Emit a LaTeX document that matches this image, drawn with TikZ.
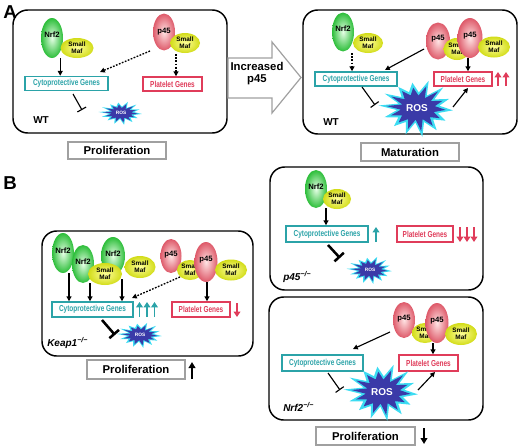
\documentclass[tikz,border=0pt]{standalone}
\usepackage{fontspec}
\setmainfont{Liberation Sans}
\usetikzlibrary{arrows.meta,shapes.geometric}
\definecolor{tealc}{HTML}{2BA3A8}
\definecolor{redc}{HTML}{E03C5A}
\definecolor{nrfout}{HTML}{2DBE3A}
\definecolor{nrfin}{HTML}{E6FFE6}
\definecolor{p45out}{HTML}{DE5A6A}
\definecolor{p45in}{HTML}{FFE4E4}
\definecolor{mafout}{HTML}{D2DC18}
\definecolor{mafin}{HTML}{FFFF9A}
\definecolor{roscyan}{HTML}{3CDCF2}
\definecolor{rosblue}{HTML}{3A3AA8}
\definecolor{boxgray}{HTML}{A0A0A0}
\newcommand\fs[1]{\fontsize{#1}{#1}\selectfont}
\newcommand\gtext[1]{\scalebox{0.97}[1.3]{#1}}
% star: cx cy rx ry
\newcommand\rosstar[4]{%
  \fill[roscyan] plot[domain=0:27,samples=28,variable=\k]
    ({#1+#3*(0.79+0.21*cos(\k*180))*(1+0.08*sin(\k*137))*cos(\k*360/28+5)},
     {#2+#4*(0.79+0.21*cos(\k*180))*(1+0.08*sin(\k*137))*sin(\k*360/28+5)}) -- cycle;
  \fill[rosblue] plot[domain=0:27,samples=28,variable=\k]
    ({#1+0.8*#3*(0.79+0.21*cos(\k*180))*(1+0.08*sin(\k*137))*cos(\k*360/28+5)},
     {#2+0.8*#4*(0.79+0.21*cos(\k*180))*(1+0.08*sin(\k*137))*sin(\k*360/28+5)}) -- cycle;
}
\begin{document}
\begin{tikzpicture}[x=0.75pt,y=-0.75pt,
  panel/.style={draw=black,line width=1.1pt,rounded corners=11pt},
  esz/.style 2 args={minimum width=#1*0.75pt,minimum height=#2*0.75pt},
  nrf/.style={ellipse,inner sep=0pt,shade,inner color=nrfin,outer color=nrfout,font=\fs{5.8}\bfseries},
  pff/.style={ellipse,inner sep=0pt,shade,inner color=p45in,outer color=p45out,font=\fs{5.8}\bfseries},
  maf/.style={ellipse,inner sep=0pt,shade,inner color=mafin,outer color=mafout,font=\fontsize{4.8}{5.2}\selectfont\bfseries,align=center},
  gbox/.style={fill=white,line width=1.1pt,inner sep=0pt,font=\fs{5}\bfseries},
  gcyto/.style={gbox,draw=tealc,text=tealc},
  gplat/.style={gbox,draw=redc,text=redc},
  arr/.style={line width=0.85pt,-{Triangle[length=3.6pt,width=3.6pt]}},
  darr/.style={line width=1pt,dash pattern=on 1.3pt off 1.1pt,-{Triangle[length=3.6pt,width=3.6pt]}},
  inh/.style={line width=0.85pt,-{Bar[width=7.5pt,line width=0.85pt]}},
  inhthick/.style={line width=1.9pt,-{Bar[width=9.5pt,line width=1.9pt]}},
  redup/.style={draw=redc,line width=1.3pt,-{Triangle[length=4pt,width=5pt]}},
  tealup/.style={draw=tealc,line width=1.3pt,-{Triangle[length=4pt,width=5pt]}},
  blkup/.style={draw=black,line width=1.3pt,-{Triangle[length=4.5pt,width=5pt]}},
  prol/.style={draw=boxgray,line width=1pt,fill=white,inner sep=0pt,font=\fs{8.5}\bfseries},
  rosbig/.style={text=white,font=\fs{7.5}\bfseries,inner sep=0pt},
  rossmall/.style={text=white,font=\fs{3.6}\bfseries,inner sep=0pt},
  wt/.style={font=\fs{7.5}\bfseries,anchor=west,inner sep=0pt},
  geno/.style={font=\fs{7.5}\bfseries\itshape,anchor=west,inner sep=0pt},
  lab/.style={font=\fs{14}\bfseries,inner sep=0pt},
  bigarrow/.style={draw=boxgray,line width=0.9pt,fill=white,line join=miter}
]
\useasboundingbox (0,0) rectangle (520,446);

% ================= Panel A left =================
\node[lab] (labA) at (10,12) {A};
\draw[panel] (13,10) rectangle (227,133);
\node[nrf,esz={22}{40}] (nA1) at (52,38) {\raisebox{5pt}{Nrf2}};
\node[maf,esz={33}{20}] (mA1) at (77,48) {Small\\Maf};
\node[gcyto,esz={83}{14}] (cA1) at (66.5,83.5) {\gtext{Cytoprotective Genes}};
\node[pff,esz={22}{37}] (pA1) at (164,32) {p45};
\node[maf,esz={30}{20}] (mA2) at (185,43) {Small\\Maf};
\node[gplat,esz={59}{14}] (gA1) at (172.5,84) {\gtext{Platelet Genes}};
\coordinate (a1) at (nA1.south -| mA1.west);
\draw[arr] (a1) -- (a1 |- cA1.north);
\coordinate (a2s) at (150,51);
\coordinate (a2e) at (100,72);
\draw[darr] (a2s) -- (a2e);
\coordinate (a3) at (176,54);
\draw[darr] (a3) -- (a3 |- gA1.north);
\rosstar{121}{113}{21}{11}
\node[rossmall] (rA1) at (121,113) {ROS};
\coordinate (t1s) at (73,94);
\coordinate (t1e) at (82,110);
\draw[inh] (t1s) -- (t1e);
\node[wt] (wtA1) at (33,120) {WT};
\node[prol,esz={98}{17}] (prA) at (117,150.5) {Proliferation};

% big arrow
\draw[bigarrow] (228,58) -- (272,58) -- (272,42) -- (301,77.5) -- (272,113) -- (272,98) -- (228,98) -- cycle;
\node[font=\fontsize{8.5}{9}\selectfont\bfseries,align=center,inner sep=0pt] (incr) at (257,74) {Increased\\p45};

% ================= Panel A right =================
\draw[panel] (303,10) rectangle (517,134);
\node[nrf,esz={22}{39}] (nA2) at (343,32) {\raisebox{5pt}{Nrf2}};
\node[maf,esz={30}{20}] (mA3) at (368,43) {Small\\Maf};
\node[gcyto,esz={82}{14}] (cA2) at (356,79) {\gtext{Cytoprotective Genes}};
\coordinate (b1) at (352,53);
\draw[darr] (b1) -- (b1 |- cA2.north);
\node[pff,esz={24}{37}] (pA2) at (438,41) {\raisebox{4pt}{p45}};
\node[maf,esz={27}{22}] (mA4) at (457,49) {Small\\Maf};
\node[pff,esz={25}{40}] (pA3) at (470,38) {\raisebox{4pt}{p45}};
\node[maf,esz={32}{21}] (mA5) at (494,47) {Small\\Maf};
\node[gplat,esz={58}{14}] (gA2) at (463,79) {\gtext{Platelet Genes}};
\coordinate (b2s) at (424,49);
\coordinate (b2e) at (385,70);
\draw[arr] (b2s) -- (b2e);
\coordinate (b3) at (468,58);
\draw[arr] (b3) -- (b3 |- gA2.north);
\coordinate (u1) at (498,86);
\coordinate (u2) at (506,86);
\draw[redup] (u1) -- ++(0,-14);
\draw[redup] (u2) -- ++(0,-14);
\rosstar{417}{108}{36}{27}
\node[rosbig] (rA2) at (417,108) {ROS};
\coordinate (t2s) at (362,87);
\coordinate (t2e) at (375,105);
\draw[inh] (t2s) -- (t2e);
\coordinate (b4s) at (453,107);
\coordinate (b4e) at (468,88);
\draw[arr] (b4s) -- (b4e);
\node[wt] (wtA2) at (323,122) {WT};
\node[prol,esz={98}{18}] (prM) at (410,152) {Maturation};

% ================= Panel B : Keap1 =================
\node[lab] (labB) at (10,183) {B};
\draw[panel] (42,231) rectangle (253,356);
\node[nrf,esz={21}{40}] (nB1) at (63,253) {\raisebox{4pt}{Nrf2}};
\node[nrf,esz={22}{38}] (nB2) at (83,264) {\raisebox{4pt}{Nrf2}};
\node[nrf,esz={24}{38}] (nB3) at (113,256) {\raisebox{4pt}{Nrf2}};
\node[maf,esz={34}{22}] (mB1) at (105,274) {Small\\Maf};
\node[maf,esz={31}{22}] (mB2) at (140,267) {Small\\Maf};
\node[gcyto,esz={81}{15}] (cB) at (92.5,309.5) {\gtext{Cytoprotective Genes}};
\coordinate (c1) at (69,273);
\coordinate (c2) at (90,283);
\coordinate (c3) at (122,279);
\draw[arr] (c1) -- (c1 |- cB.north);
\draw[arr] (c2) -- (c2 |- cB.north);
\draw[arr] (c3) -- (c3 |- cB.north);
\coordinate (v1) at (139.5,317);
\coordinate (v2) at (147,317);
\coordinate (v3) at (154.5,317);
\draw[tealup] (v1) -- ++(0,-15);
\draw[tealup] (v2) -- ++(0,-15);
\draw[tealup] (v3) -- ++(0,-15);
\node[pff,esz={21}{34}] (pB1) at (171,256) {\raisebox{3pt}{p45}};
\node[maf,esz={26}{20}] (mB3) at (190,270) {Small\\Maf};
\node[pff,esz={23}{40}] (pB2) at (206,262) {\raisebox{4pt}{p45}};
\node[maf,esz={32}{21}] (mB4) at (231,270) {Small\\Maf};
\node[gplat,esz={58}{15}] (gB) at (201,309.5) {\gtext{Platelet Genes}};
\coordinate (c4s) at (180,277);
\coordinate (c4e) at (132,298);
\draw[darr] (c4s) -- (c4e);
\coordinate (c5) at (207,282);
\draw[arr] (c5) -- (c5 |- gB.north);
\coordinate (w1) at (237,303);
\draw[redup] (w1) -- ++(0,14);
\rosstar{140}{335}{22}{12}
\node[rossmall] (rB) at (140,335) {ROS};
\coordinate (t3s) at (102,320);
\coordinate (t3e) at (115,335);
\draw[inhthick] (t3s) -- (t3e);
\node[geno] (gkeap) at (47,343) {Keap1\textsuperscript{−/−}};
\node[prol,esz={98}{19}] (prB) at (136,369.5) {Proliferation};
\coordinate (k1) at (192,379);
\draw[blkup] (k1) -- ++(0,-17);

% ================= Panel B : p45-/- =================
\draw[panel] (270,167) rectangle (483,290);
\node[nrf,esz={22}{38}] (nC) at (316,189) {\raisebox{4pt}{Nrf2}};
\node[maf,esz={28}{20}] (mC) at (337,199) {Small\\Maf};
\node[gcyto,esz={82}{16}] (cC) at (327,234) {\gtext{Cytoprotective Genes}};
\coordinate (e1) at (326,208);
\draw[arr] (e1) -- (e1 |- cC.north);
\coordinate (x1) at (376,242);
\draw[tealup] (x1) -- ++(0,-15);
\node[gplat,esz={56}{16}] (gC) at (425,234) {\gtext{Platelet Genes}};
\coordinate (y1) at (460,227);
\coordinate (y2) at (467,227);
\coordinate (y3) at (474,227);
\draw[redup] (y1) -- ++(0,15);
\draw[redup] (y2) -- ++(0,15);
\draw[redup] (y3) -- ++(0,15);
\rosstar{370}{270}{22}{13}
\node[rossmall] (rC) at (370,270) {ROS};
\coordinate (t4s) at (328,245);
\coordinate (t4e) at (340,258);
\draw[inhthick] (t4s) -- (t4e);
\node[geno] (gp45) at (283,277) {p45\textsuperscript{−/−}};

% ================= Panel B : Nrf2-/- =================
\draw[panel] (269,297) rectangle (483,420);
\node[pff,esz={22}{36}] (pD1) at (404,320) {\raisebox{3pt}{p45}};
\node[maf,esz={26}{20}] (mD1) at (425,333) {Small\\Maf};
\node[pff,esz={23}{40}] (pD2) at (437,323) {\raisebox{4pt}{p45}};
\node[maf,esz={32}{22}] (mD2) at (461,334) {Small\\Maf};
\node[gcyto,esz={81}{16}] (cD) at (322.5,363) {\gtext{Cytoprotective Genes}};
\node[gplat,esz={59}{16}] (gD) at (428.5,363) {\gtext{Platelet Genes}};
\coordinate (f1s) at (390,332);
\coordinate (f1e) at (353,349);
\draw[arr] (f1s) -- (f1e);
\coordinate (f2) at (433,343);
\draw[arr] (f2) -- (f2 |- gD.north);
\rosstar{382}{392}{36}{27}
\node[rosbig] (rD) at (382,392) {ROS};
\coordinate (t5s) at (328,373);
\coordinate (t5e) at (340,390);
\draw[inh] (t5s) -- (t5e);
\coordinate (f3s) at (418,390);
\coordinate (f3e) at (435,372);
\draw[arr] (f3s) -- (f3e);
\node[geno] (gnrf) at (283,407) {Nrf2\textsuperscript{−/−}};
\node[prol,esz={99}{18}] (prD) at (365.5,436) {Proliferation};
\coordinate (k2) at (424,428);
\draw[blkup] (k2) -- ++(0,16);
\end{tikzpicture}
\end{document}
